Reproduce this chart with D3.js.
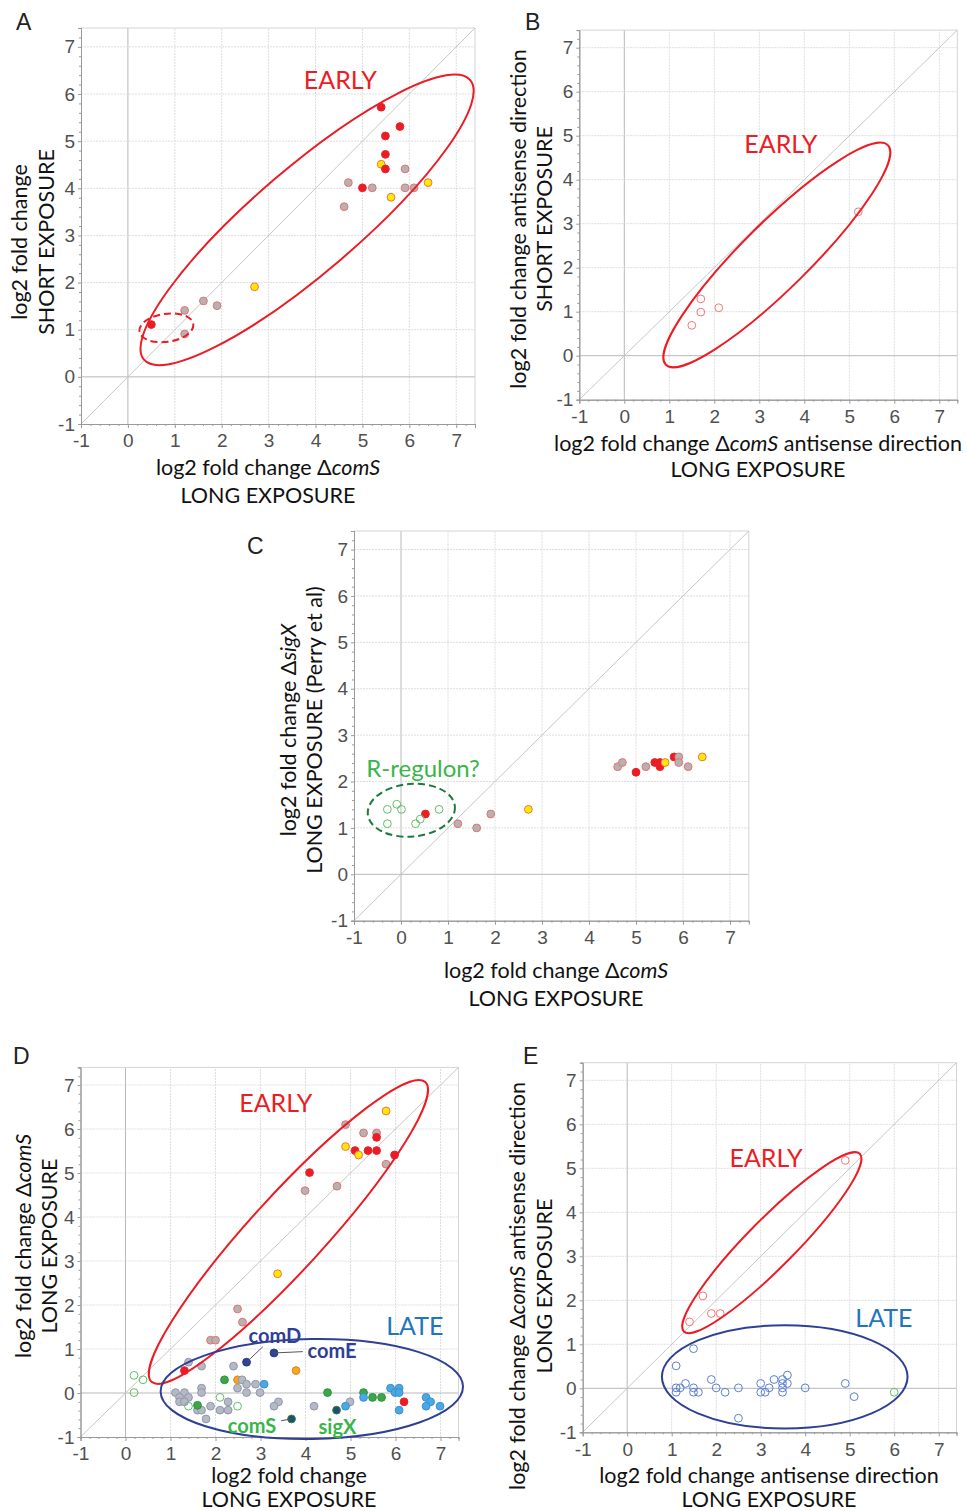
<!DOCTYPE html>
<html>
<head>
<meta charset="utf-8">
<script src="https://cdn.jsdelivr.net/npm/d3@7"></script>
<style>
  body { margin: 0; background: #fff; }
  .tick text { font-family: "Liberation Sans", Arial, sans-serif; font-size: 19px; fill: #505050; }
  .axis path, .axis line { stroke: #9a9a9a; }
  .title { font-family: Lato, "Open Sans", sans-serif; font-size: 21.5px; fill: #111; }
  .letter { font-family: "Liberation Sans", Arial, sans-serif; font-size: 23px; fill: #222; }
  .note { font-family: Lato, "Open Sans", sans-serif; }
</style>
</head>
<body>
<svg id="fig" width="967" height="1511"></svg>
<script>
// tick values shared by every panel
var tickVals = [-1, 0, 1, 2, 3, 4, 5, 6, 7];
var axisMax = 7.4;

// [x, y, kind]
var pointsA = [
  [5.40,5.72,"r"],[5.80,5.31,"r"],[5.49,5.11,"r"],[5.49,4.72,"r"],[5.40,4.51,"y"],[5.49,4.41,"r"],
  [5.91,4.41,"g"],[4.70,4.12,"g"],[5.00,4.01,"r"],[5.21,4.01,"g"],[5.91,4.01,"g"],[6.10,4.01,"g"],
  [6.40,4.12,"y"],[5.61,3.81,"y"],[4.61,3.61,"g"],[2.70,1.91,"y"],[1.61,1.61,"g"],[1.90,1.51,"g"],
  [1.21,1.41,"g"],[0.50,1.11,"r"],[1.21,0.91,"g"]
];
var pointsB = [[5.20,3.27,"ro"],[1.70,1.29,"ro"],[1.70,0.99,"ro"],[2.10,1.09,"ro"],[1.50,0.69,"ro"]];
var pointsC = [
  [4.61,2.32,"g"],[4.71,2.41,"g"],[5.00,2.20,"r"],[5.21,2.32,"g"],[5.40,2.41,"r"],[5.51,2.41,"r"],
  [5.51,2.32,"r"],[5.62,2.41,"y"],[5.81,2.53,"r"],[5.91,2.53,"g"],[5.91,2.41,"g"],[6.11,2.32,"g"],
  [6.41,2.53,"y"],[2.71,1.40,"y"],[1.91,1.30,"g"],[1.21,1.09,"g"],[1.61,1.00,"g"],[0.52,1.30,"r"],
  [-0.29,1.40,"go"],[-0.09,1.51,"go"],[0.01,1.40,"go"],[-0.29,1.09,"go"],[0.31,1.09,"go"],
  [0.41,1.19,"go"],[0.81,1.40,"go"]
];
var pointsDEarly = [
  [5.79,6.41,"y"],[4.89,6.10,"g"],[5.29,5.91,"g"],[5.58,5.91,"g"],[5.58,5.81,"r"],[4.89,5.60,"y"],
  [5.10,5.51,"r"],[5.18,5.41,"y"],[5.39,5.51,"r"],[5.58,5.51,"r"],[5.98,5.41,"r"],[5.79,5.20,"g"],
  [4.09,5.01,"r"],[4.70,4.70,"g"],[3.99,4.60,"g"],[3.38,2.71,"y"],[2.49,1.91,"g"],[2.60,1.61,"g"],
  [1.89,1.20,"g"],[2.00,1.20,"g"]
];
var pointsDLate = [
  [1.31,0.51,"r"],[3.79,0.51,"or"],[1.40,0.70,"lg"],[1.69,0.61,"lg"],[2.40,0.61,"lg"],[2.20,0.30,"gr"],
  [2.49,0.30,"or"],[2.59,0.30,"lg"],[2.69,0.20,"lg"],[2.89,0.20,"lg"],[3.08,0.20,"lb"],[2.49,0.11,"lg"],
  [1.69,0.11,"lg"],[1.69,0.01,"lg"],[1.11,0.01,"lg"],[1.31,0.01,"lg"],[2.69,0.01,"lg"],[2.99,0.01,"lg"],
  [1.20,-0.10,"lg"],[1.40,-0.10,"lg"],[1.20,-0.20,"lg"],[1.31,-0.20,"lg"],[2.28,-0.20,"lg"],[3.40,-0.20,"lg"],
  [1.89,-0.30,"lg"],[3.30,-0.30,"lg"],[4.19,-0.30,"lg"],[1.60,-0.39,"lg"],[1.69,-0.39,"lg"],[2.10,-0.39,"lg"],
  [2.28,-0.39,"lg"],[1.79,-0.59,"lg"],[1.60,-0.28,"gr"],[4.99,-0.20,"lg"],[4.89,-0.30,"lb"],[4.49,0.01,"gr"],
  [4.69,-0.39,"dt"],[3.69,-0.59,"dt"],[5.29,0.01,"gr"],[5.29,-0.10,"lb"],[5.49,-0.10,"gr"],[5.69,-0.10,"gr"],
  [5.89,0.11,"lb"],[6.08,0.11,"lb"],[5.99,0.01,"lb"],[6.08,0.01,"lb"],[6.19,-0.20,"r"],[6.08,-0.39,"lb"],
  [6.68,-0.10,"lb"],[6.78,-0.20,"lb"],[6.68,-0.30,"lb"],[6.99,-0.30,"lb"],[2.69,0.70,"db"],[3.30,0.91,"db"],
  [0.19,0.40,"go"],[0.39,0.30,"go"],[0.19,0.01,"go"],[2.10,-0.10,"go"],[1.40,-0.30,"go"],[2.49,-0.30,"go"]
];
var pointsE = [
  [4.90,5.18,"ro"],[1.70,2.10,"ro"],[1.89,1.70,"ro"],[2.09,1.70,"ro"],[1.40,1.51,"ro"],
  [1.49,0.90,"bo"],[1.10,0.51,"bo"],[1.31,0.11,"bo"],[1.10,0.01,"bo"],[1.19,0.01,"bo"],[1.10,-0.09,"bo"],
  [1.49,0.01,"bo"],[1.49,-0.09,"bo"],[1.60,-0.09,"bo"],[1.89,0.20,"bo"],[2.00,0.01,"bo"],[2.20,-0.09,"bo"],
  [2.50,0.01,"bo"],[2.50,-0.68,"bo"],[3.00,0.11,"bo"],[3.00,-0.09,"bo"],[3.10,-0.09,"bo"],[3.19,0.01,"bo"],
  [3.30,0.20,"bo"],[3.49,0.20,"bo"],[3.49,0.11,"bo"],[3.60,0.30,"bo"],[3.60,0.11,"bo"],[3.49,0.01,"bo"],
  [3.49,-0.09,"bo"],[4.00,0.01,"bo"],[4.90,0.11,"bo"],[5.10,-0.19,"bo"],[6.00,-0.09,"go"]
];

// marker styles per kind
var kinds = {
  r:  {fill: "#ed1c24", stroke: "#e2262c"},
  g:  {fill: "#b3b3b3", stroke: "#ec6f6f"},
  y:  {fill: "#ffea00", stroke: "#f4704a"},
  ro: {fill: "none",    stroke: "#f27777"},
  go: {fill: "none",    stroke: "#62bd68"},
  bo: {fill: "none",    stroke: "#5b7fd0"},
  lg: {fill: "#b7b9c2", stroke: "#8d97b3"},
  lb: {fill: "#4aa9e3", stroke: "#3d8fcf"},
  gr: {fill: "#3aa848", stroke: "#2f8f3c"},
  or: {fill: "#f6a524", stroke: "#d98a18"},
  db: {fill: "#2c4599", stroke: "#24397f"},
  dt: {fill: "#1d4f70", stroke: "#2a8a46"}
};

var svg = d3.select("#fig");
svg.append("rect").attr("width", 967).attr("height", 1511).attr("fill", "#fff");

var panels = [
  {letter: "A", lx: 16, ly: 30, box: [81, 475, 28, 424], points: [pointsA],
   xTitle: [["log2 fold change Δ", ["comS"], ""], ["LONG EXPOSURE"]], xt: [268, 475, 503],
   yTitle: [["log2 fold change"], ["SHORT EXPOSURE"]], yt: [242, 27, 54],
   ellipses: [{c: [3.82, 3.33], r: [4.58, 1.11], a: -40.6, col: "#ed1c24"},
              {c: [0.82, 1.04], r: [0.58, 0.30], a: -8, col: "#ed1c24", dash: "7,4"}],
   notes: [{t: "EARLY", at: [4.53, 6.32], col: "#ed1c24", size: 25}]},
  {letter: "B", lx: 525, ly: 30, box: [579.3, 957.3, 30.1, 399.7], points: [pointsB],
   xTitle: [["log2 fold change Δ", ["comS"], " antisense direction"], ["LONG EXPOSURE"]], xt: [758, 451, 477],
   yTitle: [["log2 fold change antisense direction"], ["SHORT EXPOSURE"]], yt: [219, 526, 552],
   ellipses: [{c: [3.39, 2.29], r: [3.47, 0.74], a: -44.7, col: "#ed1c24"}],
   notes: [{t: "EARLY", at: [3.48, 4.83], col: "#ed1c24", size: 25}]},
  {letter: "C", lx: 247, ly: 554, box: [354, 748.8, 531, 920.7], points: [pointsC],
   xTitle: [["log2 fold change Δ", ["comS"], ""], ["LONG EXPOSURE"]], xt: [556, 978, 1006],
   yTitle: [["log2 fold change Δ", ["sigX"], ""], ["LONG EXPOSURE (Perry et al)"]], yt: [730, 296, 322],
   ellipses: [{c: [0.22, 1.38], r: [0.93, 0.56], a: -5, col: "#1d7a3c", dash: "7,4"}],
   notes: [{t: "R-regulon?", at: [0.47, 2.31], col: "#3ab54a", size: 24}]},
  {letter: "D", lx: 13, ly: 1064, box: [80.5, 458.5, 1067.4, 1437], points: [pointsDEarly, pointsDLate],
   xTitle: [["log2 fold change"], ["LONG EXPOSURE"]], xt: [289, 1483, 1507],
   yTitle: [["log2 fold change Δ", ["comS"], ""], ["LONG EXPOSURE"]], yt: [1246, 31, 57],
   ellipses: [{c: [3.62, 3.66], r: [4.51, 0.82], a: -47.6, col: "#ed1c24"},
              {c: [4.14, 0.09], r: [3.36, 1.11], a: -1, col: "#2e3f95"}],
   notes: [{t: "EARLY", at: [3.34, 6.61], col: "#ed1c24", size: 25},
           {t: "LATE", at: [6.43, 1.55], col: "#1f76bd", size: 25},
           {t: "comD", at: [3.32, 1.32], col: "#2e3f95", size: 20, bold: true},
           {t: "comE", at: [4.59, 0.98], col: "#2e3f95", size: 20, bold: true},
           {t: "comS", at: [2.81, -0.73], col: "#3ab54a", size: 20, bold: true},
           {t: "sigX", at: [4.71, -0.74], col: "#3ab54a", size: 20, bold: true}],
   leaders: [[[2.69, 0.70], [3.05, 1.05]], [[3.30, 0.91], [3.94, 0.94]], [[3.69, -0.59], [3.46, -0.63]]]},
  {letter: "E", lx: 523, ly: 1064, box: [582.7, 956.5, 1062.7, 1432.3], points: [pointsE],
   xTitle: [["log2 fold change antisense direction"], ["LONG EXPOSURE"]], xt: [769, 1483, 1507],
   yTitle: [["log2 fold change Δ", ["comS"], " antisense direction"], ["LONG EXPOSURE"]], yt: [1286, 525, 552],
   ellipses: [{c: [3.25, 3.31], r: [2.81, 0.54], a: -45.3, col: "#ed1c24"},
              {c: [3.54, 0.26], r: [2.76, 1.16], a: 0, col: "#2e3f95"}],
   notes: [{t: "EARLY", at: [3.12, 5.25], col: "#ed1c24", size: 25},
           {t: "LATE", at: [5.77, 1.61], col: "#1f76bd", size: 25}]}
];

// writes a line like ["plain", ["italic"], "plain"] as tspans
function fillLine(text, parts) {
  parts.forEach(function(p) {
    if (Array.isArray(p)) text.append("tspan").style("font-style", "italic").text(p[0]);
    else if (p !== "") text.append("tspan").text(p);
  });
}

var minorVals = d3.range(-1, axisMax + 0.001, 0.2).filter(function(v) {
  return Math.abs(v - Math.round(v)) > 0.01;
});

panels.forEach(function(p) {
  var x = d3.scaleLinear().domain([-1, axisMax]).range([p.box[0], p.box[1]]);
  var y = d3.scaleLinear().domain([-1, axisMax]).range([p.box[3], p.box[2]]);
  var g = svg.append("g");

  // grid
  g.selectAll(".gx").data(tickVals.slice(1)).enter().append("line")
    .attr("x1", x).attr("x2", x).attr("y1", y(-1)).attr("y2", y(axisMax))
    .attr("stroke", function(d) { return d === 0 ? "#b8b8b8" : "#dedede"; })
    .attr("stroke-dasharray", function(d) { return d === 0 ? null : "2,1"; });
  g.selectAll(".gy").data(tickVals.slice(1)).enter().append("line")
    .attr("y1", y).attr("y2", y).attr("x1", x(-1)).attr("x2", x(axisMax))
    .attr("stroke", function(d) { return d === 0 ? "#b8b8b8" : "#dedede"; })
    .attr("stroke-dasharray", function(d) { return d === 0 ? null : "2,1"; });
  // frame top / right
  g.append("path")
    .attr("d", "M" + x(-1) + "," + y(axisMax) + "H" + x(axisMax) + "V" + y(-1))
    .attr("fill", "none").attr("stroke", "#d4d4d4");
  // identity line
  g.append("line")
    .attr("x1", x(-1)).attr("y1", y(-1)).attr("x2", x(axisMax)).attr("y2", y(axisMax))
    .attr("stroke", "#c6c6c6");

  // axes
  g.append("g").attr("class", "axis")
    .attr("transform", "translate(0," + y(-1) + ")")
    .call(d3.axisBottom(x).tickValues(minorVals).tickSize(2).tickFormat(""));
  g.append("g").attr("class", "axis")
    .attr("transform", "translate(0," + y(-1) + ")")
    .call(d3.axisBottom(x).tickValues(tickVals).tickSize(4).tickPadding(6).tickFormat(String));
  g.append("g").attr("class", "axis")
    .attr("transform", "translate(" + x(-1) + ",0)")
    .call(d3.axisLeft(y).tickValues(minorVals).tickSize(2).tickFormat(""));
  g.append("g").attr("class", "axis")
    .attr("transform", "translate(" + x(-1) + ",0)")
    .call(d3.axisLeft(y).tickValues(tickVals).tickSize(3).tickPadding(3).tickFormat(String));
  g.selectAll(".axis .domain").attr("stroke", "#9a9a9a");

  // points
  p.points.forEach(function(set) {
    g.selectAll(null).data(set).enter().append("circle")
      .attr("cx", function(d) { return x(d[0]); })
      .attr("cy", function(d) { return y(d[1]); })
      .attr("r", 3.9)
      .attr("fill", function(d) { return kinds[d[2]].fill; })
      .attr("stroke", function(d) { return kinds[d[2]].stroke; })
      .attr("stroke-width", 1);
  });

  // ellipses
  p.ellipses.forEach(function(e) {
    var cx = x(e.c[0]), cy = y(e.c[1]);
    g.append("ellipse")
      .attr("cx", cx).attr("cy", cy)
      .attr("rx", x(e.r[0]) - x(0)).attr("ry", x(e.r[1]) - x(0))
      .attr("transform", "rotate(" + e.a + "," + cx + "," + cy + ")")
      .attr("fill", "none").attr("stroke", e.col).attr("stroke-width", 2)
      .attr("stroke-dasharray", e.dash || null);
  });

  (p.leaders || []).forEach(function(l) {
    g.append("line")
      .attr("x1", x(l[0][0])).attr("y1", y(l[0][1]))
      .attr("x2", x(l[1][0])).attr("y2", y(l[1][1]))
      .attr("stroke", "#555").attr("stroke-width", 1);
  });

  p.notes.forEach(function(n) {
    g.append("text").attr("class", "note")
      .attr("x", x(n.at[0])).attr("y", y(n.at[1]))
      .attr("text-anchor", "middle").attr("dominant-baseline", "central")
      .attr("fill", n.col).style("font-size", n.size + "px")
      .style("font-weight", n.bold ? "bold" : "normal")
      .text(n.t);
  });

  // titles
  p.xTitle.forEach(function(line, i) {
    var t = g.append("text").attr("class", "title")
      .attr("x", p.xt[0]).attr("y", p.xt[1 + i]).attr("text-anchor", "middle");
    fillLine(t, line);
  });
  p.yTitle.forEach(function(line, i) {
    var t = g.append("text").attr("class", "title")
      .attr("transform", "translate(" + p.yt[1 + i] + "," + p.yt[0] + ") rotate(-90)")
      .attr("text-anchor", "middle");
    fillLine(t, line);
  });

  g.append("text").attr("class", "letter").attr("x", p.lx).attr("y", p.ly).text(p.letter);
});
</script>
</body>
</html>
